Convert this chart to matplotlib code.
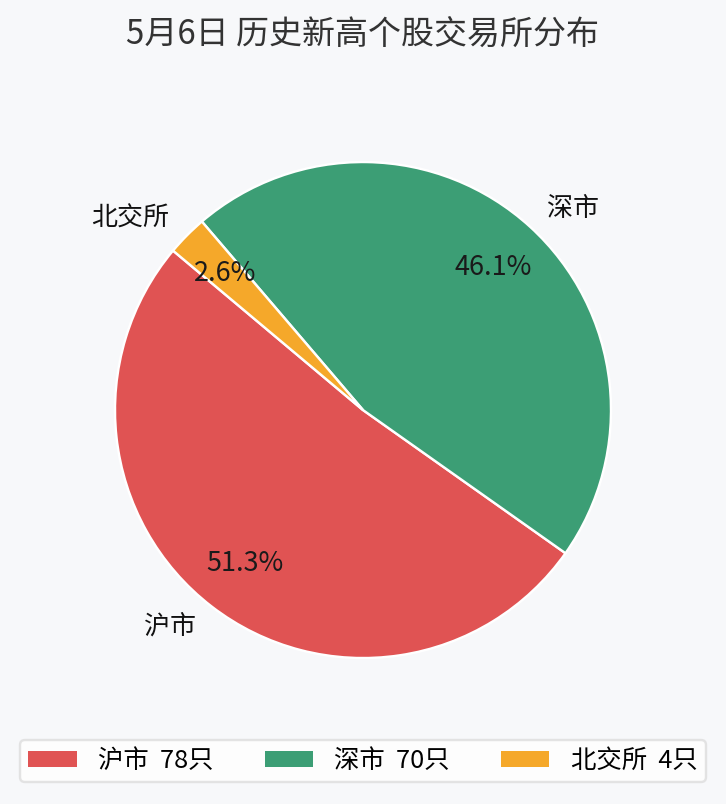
import matplotlib
matplotlib.use("Agg")
import matplotlib.pyplot as plt

plt.rcParams['font.family'] = ['Noto Sans CJK SC', 'DejaVu Sans']

title = "5月6日 历史新高个股交易所分布"
categories = ["沪市", "深市", "北交所"]
counts = [78, 70, 4]
colors = ["#e05353", "#3c9e75", "#f5a82a"]

bg = "#f7f8fa"
fig = plt.figure(figsize=(726/144, 804/144), dpi=144, facecolor=bg)
ax = fig.add_axes([0.5 - 0.3416, 0.49 - 0.3085, 0.6832, 0.617])
ax.set_facecolor(bg)

wedges, texts, autotexts = ax.pie(
    counts, labels=categories, colors=colors, startangle=140,
    autopct='%1.1f%%', pctdistance=0.78, labeldistance=1.1,
    wedgeprops=dict(edgecolor='white', linewidth=1.2),
    textprops=dict(fontsize=13, color='#111111'))
for t in autotexts:
    t.set_fontsize(13.5)
    t.set_color('#1a1a1a')
ax.set_xlim(-1, 1)
ax.set_ylim(-1, 1)
ax.set_aspect('equal')

fig.text(0.5, 1 - 34/804, title, ha='center', va='center', fontsize=16.5, color='#333333')

labels = [f"{c}  {n}只" for c, n in zip(categories, counts)]
leg = fig.legend(wedges, labels, loc='lower center', bbox_to_anchor=(0.5, 22/804),
                 borderaxespad=0,
                 ncol=3, fontsize=12.7, frameon=True, fancybox=True,
                 handlelength=1.9, handleheight=0.55, handletextpad=0.85,
                 columnspacing=2.0, borderpad=0.32)
leg.get_frame().set_facecolor('white')
leg.get_frame().set_edgecolor('#dddddd')
leg.get_frame().set_linewidth(1.2)
for h in leg.legend_handles:
    h.set_edgecolor('none')

fig.savefig("out.png", dpi=144, facecolor=bg)
